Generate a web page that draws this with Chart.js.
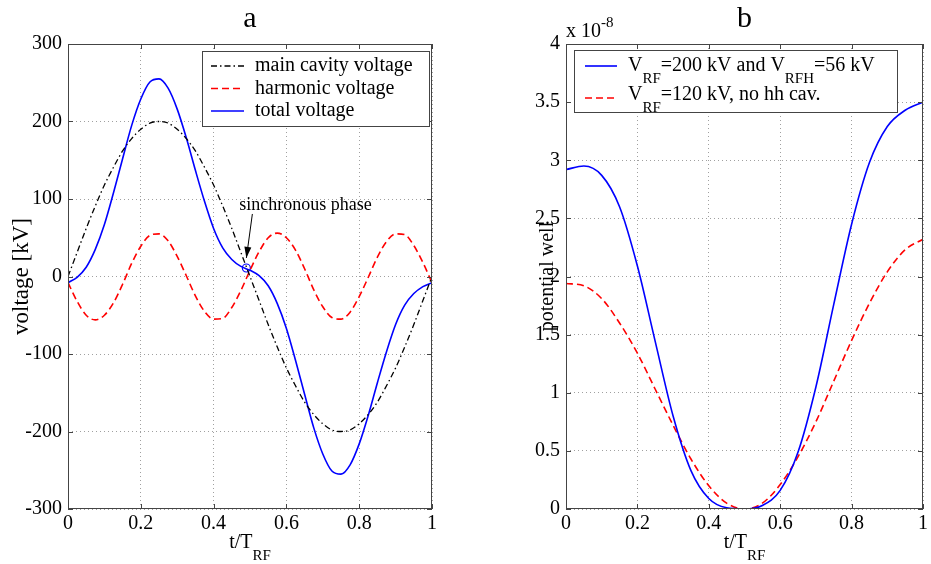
<!DOCTYPE html>
<html lang="en">
<head>
<meta charset="UTF-8">
<title>Voltage and potential well</title>
<script src="https://cdn.jsdelivr.net/npm/chart.js"></script>
<style>
  body { margin: 0; background: #fff; }
  #wrap { position: relative; width: 931px; height: 564px; }
  canvas { position: absolute; top: 0; }
</style>
</head>
<body>
<div id="wrap">
  <canvas id="voltChart" width="465" height="564" style="left:0"></canvas>
  <canvas id="wellChart" width="465" height="564" style="left:466px"></canvas>
</div>
<script>
// panel a: voltages [kV] against t/T_RF
const tVolt = [0, 0.025, 0.05, 0.075, 0.1, 0.125, 0.15, 0.175, 0.2, 0.225, 0.25, 0.275, 0.3, 0.325, 0.35, 0.375, 0.4, 0.425, 0.45, 0.475,
               0.5, 0.525, 0.55, 0.575, 0.6, 0.625, 0.65, 0.675, 0.7, 0.725, 0.75, 0.775, 0.8, 0.825, 0.85, 0.875, 0.9, 0.925, 0.95, 0.975, 1];
const mainVoltage = [0, 31, 62, 91, 118, 141, 162, 178, 190, 198, 200, 198, 190, 178, 162, 141, 118, 91, 62, 31,
                     0, -31, -62, -91, -118, -141, -162, -178, -190, -198, -200, -198, -190, -178, -162, -141, -118, -91, -62, -31, 0];
const harmonicVoltage = [-8, -32, -50, -56, -50, -34, -10, 17, 39, 53, 55, 46, 26, 1, -25, -45, -55, -54, -40, -18,
                         8, 32, 50, 56, 50, 34, 10, -17, -39, -53, -55, -46, -26, -1, 25, 45, 55, 54, 40, 18, -8];
const totalVoltage = [-8, -1, 12, 35, 67, 108, 152, 195, 229, 251, 255, 243, 216, 179, 137, 97, 62, 37, 22, 13,
                      8, 1, -12, -35, -67, -108, -152, -195, -229, -251, -255, -243, -216, -179, -137, -97, -62, -37, -22, -13, -8];
const syncPhase = { t: 0.49, v: 11 };

// panel b: potential well (x 1e-8)
const tWell = [0, 0.05, 0.1, 0.15, 0.2, 0.25, 0.3, 0.35, 0.4, 0.45, 0.5, 0.55, 0.6, 0.65, 0.7, 0.75, 0.8, 0.85, 0.9, 0.95, 1];
const wellWithHarmonic = [2.92, 2.95, 2.87, 2.60, 2.09, 1.44, 0.80, 0.33, 0.09, 0.01, 0, 0.03, 0.16, 0.49, 1.05, 1.76, 2.45, 2.98, 3.29, 3.43, 3.50];
const wellNoHarmonic = [1.94, 1.92, 1.81, 1.60, 1.34, 1.03, 0.72, 0.43, 0.20, 0.05, 0, 0.05, 0.21, 0.45, 0.75, 1.10, 1.45, 1.77, 2.04, 2.23, 2.32];

const SERIF = "'Liberation Serif', 'DejaVu Serif', serif";
const font = size => size + 'px ' + SERIF;
Chart.defaults.font.family = SERIF;
Chart.defaults.color = '#000';

const pts = (xs, ys) => xs.map((x, i) => ({ x: x, y: ys[i] }));
const tickLabel = v => String(+v.toFixed(1));

// text runs, some lowered (sub) or raised (sup)
function richText(ctx, x, y, parts, size, align) {
  const small = Math.round(size * 0.75);
  let w = 0;
  parts.forEach(p => { ctx.font = font(p.sub || p.sup ? small : size); w += ctx.measureText(p.t).width; });
  let cx = align === 'center' ? x - w / 2 : x;
  ctx.textAlign = 'left';
  ctx.textBaseline = 'alphabetic';
  parts.forEach(p => {
    ctx.font = font(p.sub || p.sup ? small : size);
    const dy = p.sub ? size * 0.62 : p.sup ? -size * 0.5 : 0;
    ctx.fillText(p.t, cx, y + dy);
    cx += ctx.measureText(p.t).width;
  });
}

function frame(chart) {
  const { ctx, chartArea: a, scales } = chart;
  ctx.save();
  ctx.strokeStyle = '#444';
  ctx.lineWidth = 1;
  ctx.strokeRect(a.left + 0.5, a.top + 0.5, a.right - a.left - 1, a.bottom - a.top - 1);
  ctx.beginPath();
  scales.x.ticks.forEach(t => {
    const px = Math.round(scales.x.getPixelForValue(t.value)) + 0.5;
    ctx.moveTo(px, a.bottom); ctx.lineTo(px, a.bottom - 5);
    ctx.moveTo(px, a.top); ctx.lineTo(px, a.top + 5);
  });
  scales.y.ticks.forEach(t => {
    const py = Math.round(scales.y.getPixelForValue(t.value)) + 0.5;
    ctx.moveTo(a.left, py); ctx.lineTo(a.left + 5, py);
    ctx.moveTo(a.right, py); ctx.lineTo(a.right - 5, py);
  });
  ctx.stroke();
  ctx.restore();
}

function titles(chart, letter, yTitle, yTitleX, yTitleSize) {
  const { ctx, chartArea: a } = chart;
  const cx = (a.left + a.right) / 2;
  ctx.save();
  ctx.fillStyle = '#000';
  ctx.font = font(30);
  ctx.textAlign = 'center';
  ctx.textBaseline = 'alphabetic';
  ctx.fillText(letter, cx, 27);
  richText(ctx, cx, 548, [{ t: 't/T' }, { t: 'RF', sub: true }], 20, 'center');
  ctx.translate(yTitleX, (a.top + a.bottom) / 2);
  ctx.rotate(-Math.PI / 2);
  ctx.font = font(yTitleSize);
  ctx.textAlign = 'center';
  ctx.textBaseline = 'middle';
  ctx.fillText(yTitle, 0, 0);
  ctx.restore();
}

function legendBox(chart, box, rows) {
  const ctx = chart.ctx;
  ctx.save();
  ctx.fillStyle = '#fff';
  ctx.fillRect(box.x, box.y, box.w, box.h);
  ctx.strokeStyle = '#444';
  ctx.lineWidth = 1;
  ctx.strokeRect(box.x + 0.5, box.y + 0.5, box.w, box.h);
  rows.forEach(r => {
    const ds = chart.data.datasets[r.ds];
    ctx.strokeStyle = ds.borderColor;
    ctx.lineWidth = ds.borderWidth;
    ctx.setLineDash(ds.borderDash || []);
    ctx.beginPath();
    ctx.moveTo(box.x1, r.ly); ctx.lineTo(box.x2, r.ly);
    ctx.stroke();
    ctx.setLineDash([]);
    ctx.fillStyle = '#000';
    richText(ctx, box.tx, r.by, r.parts, 20, 'left');
  });
  ctx.restore();
}

function scalesFor(yMin, yMax, yStep, yWidth) {
  const grid = { color: '#a0a0a0', lineWidth: 1, drawTicks: false };
  const border = { display: false, dash: [1, 3] };
  return {
    x: {
      type: 'linear', min: 0, max: 1,
      afterFit: s => { s.height = 55; },
      grid: grid, border: border,
      ticks: { stepSize: 0.2, autoSkip: false, maxRotation: 0, padding: 3, font: { size: 20 }, color: '#000', callback: tickLabel }
    },
    y: {
      type: 'linear', min: yMin, max: yMax,
      afterFit: s => { s.width = yWidth; },
      grid: grid, border: border,
      ticks: { stepSize: yStep, autoSkip: false, padding: 6, font: { size: 20 }, color: '#000', callback: tickLabel }
    }
  };
}

const lineDefaults = { pointRadius: 0, fill: false, cubicInterpolationMode: 'monotone', borderWidth: 1.6 };

new Chart(document.getElementById('voltChart'), {
  type: 'line',
  data: {
    datasets: [
      { label: 'main cavity voltage', data: pts(tVolt, mainVoltage), borderColor: '#000000', borderDash: [6, 3, 1.5, 3], borderWidth: 1.3 },
      { label: 'harmonic voltage', data: pts(tVolt, harmonicVoltage), borderColor: '#ff0000', borderDash: [7, 4] },
      { label: 'total voltage', data: pts(tVolt, totalVoltage), borderColor: '#0000ff' },
      { label: 'sync', data: [{ x: syncPhase.t, y: syncPhase.v }], showLine: false, pointRadius: 4, pointBorderColor: '#0000ff',
        pointBackgroundColor: 'rgba(0,0,0,0)', pointBorderWidth: 1.2, borderColor: '#0000ff' }
    ].map(d => Object.assign({}, lineDefaults, d))
  },
  options: {
    responsive: false, animation: false,
    layout: { padding: { top: 44, right: 33, left: 0, bottom: 0 } },
    plugins: { legend: { display: false }, tooltip: { enabled: false } },
    scales: scalesFor(-300, 300, 100, 68)
  },
  plugins: [{
    id: 'voltDecor',
    afterDraw(chart) {
      const ctx = chart.ctx;
      frame(chart);
      titles(chart, 'a', 'voltage [kV]', 22, 23);
      // annotation of the synchronous phase
      const px = chart.scales.x.getPixelForValue(syncPhase.t);
      const py = chart.scales.y.getPixelForValue(syncPhase.v);
      ctx.save();
      ctx.fillStyle = '#000';
      ctx.strokeStyle = '#000';
      ctx.font = font(18);
      ctx.textAlign = 'left';
      ctx.textBaseline = 'alphabetic';
      ctx.fillText('sinchronous phase', px - 7, py - 58);
      const x0 = px + 6, y0 = py - 54, x1 = px, y1 = py - 10;
      const ang = Math.atan2(y1 - y0, x1 - x0);
      ctx.lineWidth = 1;
      ctx.beginPath(); ctx.moveTo(x0, y0); ctx.lineTo(x1, y1); ctx.stroke();
      ctx.beginPath();
      ctx.moveTo(x1, y1);
      ctx.lineTo(x1 - 11 * Math.cos(ang) + 3.5 * Math.sin(ang), y1 - 11 * Math.sin(ang) - 3.5 * Math.cos(ang));
      ctx.lineTo(x1 - 11 * Math.cos(ang) - 3.5 * Math.sin(ang), y1 - 11 * Math.sin(ang) + 3.5 * Math.cos(ang));
      ctx.closePath(); ctx.fill();
      ctx.restore();
      legendBox(chart, { x: 202, y: 51, w: 227, h: 75, x1: 211, x2: 244, tx: 255 }, [
        { ds: 0, ly: 66, by: 71, parts: [{ t: 'main cavity voltage' }] },
        { ds: 1, ly: 88.5, by: 93.5, parts: [{ t: 'harmonic voltage' }] },
        { ds: 2, ly: 111, by: 116, parts: [{ t: 'total voltage' }] }
      ]);
    }
  }]
});

new Chart(document.getElementById('wellChart'), {
  type: 'line',
  data: {
    datasets: [
      { label: 'VRF=200 kV and VRFH=56 kV', data: pts(tWell, wellWithHarmonic), borderColor: '#0000ff' },
      { label: 'VRF=120 kV, no hh cav.', data: pts(tWell, wellNoHarmonic), borderColor: '#ff0000', borderDash: [7, 4] }
    ].map(d => Object.assign({}, lineDefaults, d))
  },
  options: {
    responsive: false, animation: false,
    layout: { padding: { top: 44, right: 1, left: 0, bottom: 0 } },
    plugins: { legend: { display: false }, tooltip: { enabled: false } },
    scales: scalesFor(0, 4, 0.5, 100)
  },
  plugins: [{
    id: 'wellDecor',
    afterDraw(chart) {
      const ctx = chart.ctx;
      frame(chart);
      titles(chart, 'b', 'potential well', 82, 20);
      ctx.save();
      ctx.fillStyle = '#000';
      richText(ctx, chart.chartArea.left, 37, [{ t: 'x 10' }, { t: '-8', sup: true }], 20, 'left');
      ctx.restore();
      legendBox(chart, { x: 108, y: 50, w: 323, h: 62, x1: 119, x2: 151, tx: 162 }, [
        { ds: 0, ly: 66, by: 71, parts: [{ t: 'V' }, { t: 'RF', sub: true }, { t: '=200 kV and V' }, { t: 'RFH', sub: true }, { t: '=56 kV' }] },
        { ds: 1, ly: 98, by: 100, parts: [{ t: 'V' }, { t: 'RF', sub: true }, { t: '=120 kV, no hh cav.' }] }
      ]);
    }
  }]
});
</script>
</body>
</html>
